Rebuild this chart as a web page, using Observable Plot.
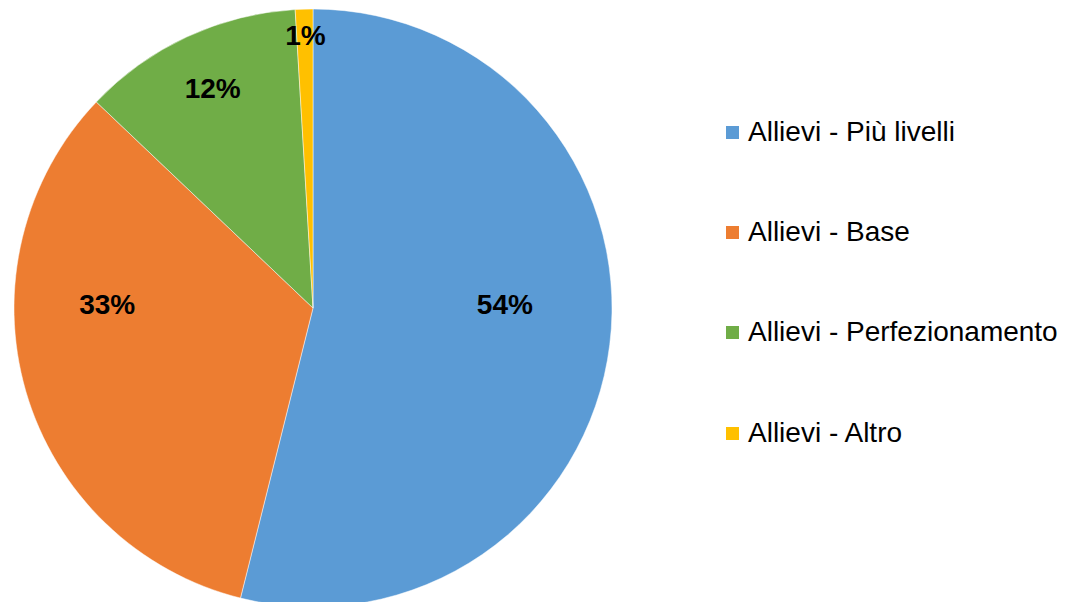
<!DOCTYPE html>
<html><head><meta charset="utf-8">
<script src="https://cdn.jsdelivr.net/npm/d3@7"></script>
<script src="https://cdn.jsdelivr.net/npm/@observablehq/plot@0.6"></script>
<style>
body{margin:0;background:#fff;font-family:"Liberation Sans",Arial,sans-serif;}
#wrap{position:relative;width:1069px;height:602px;overflow:hidden;}
.item{position:absolute;left:726px;white-space:nowrap;font-size:28px;line-height:32px;display:flex;align-items:center;color:#000;}
.sw{width:13px;height:13px;margin-right:9px;flex:none;}
</style></head><body><div id="wrap"></div>
<script>
const categories = ["Allievi - Più livelli", "Allievi - Base", "Allievi - Perfezionamento", "Allievi - Altro"];
const shares = [53.9, 33.2, 11.95, 0.95];
const labels = ["54%", "33%", "12%", "1%"];
const colors = ["#5B9BD5", "#ED7D31", "#70AD47", "#FFC000"];

const data = categories.map((c, i) => ({category: c, share: shares[i], label: labels[i]}));
const arcs = d3.pie().sort(null).value(d => d.share)(data);

// label placement (mimics "best fit": horizontal for slices spanning 3/9 o'clock)
const labelData = arcs.map(a => {
  const s = a.data.share / 100;
  let ang = (a.startAngle + a.endAngle) / 2;
  if (a.startAngle < Math.PI / 2 && a.endAngle > Math.PI / 2) ang = Math.PI / 2;
  else if (a.startAngle < 3 * Math.PI / 2 && a.endAngle > 3 * Math.PI / 2) ang = 3 * Math.PI / 2;
  const k = s > 0.5 ? 0.64 : s > 0.3 ? 0.69 : (s > 0.05 ? 0.8 : 0.9);
  return {label: a.data.label, x: Math.sin(ang) * k, y: Math.cos(ang) * k};
});

const chart = Plot.plot({
  width: 1069,
  height: 602,
  x: {domain: [-1, 1], range: [14, 612], axis: null},
  y: {domain: [-1, 1], range: [607, 9], axis: null},
  color: {domain: categories, range: colors},
  style: {fontFamily: "'Liberation Sans', Arial, sans-serif", background: "#fff"},
  marks: [
    Plot.dot(arcs, {
      x: () => 0, y: () => 0, fill: d => d.data.category,
      render: (index, scales, values) => {
        const cx = scales.x(0), cy = scales.y(0), r = scales.x(1) - scales.x(0);
        const arcGen = d3.arc().innerRadius(0).outerRadius(r);
        const g = d3.create("svg:g").attr("transform", `translate(${cx},${cy})`);
        g.selectAll("path").data(index).join("path")
          .attr("d", i => arcGen(arcs[i]))
          .attr("fill", i => values.fill[i])
          .attr("stroke", "#fff")
          .attr("stroke-opacity", 0.6)
          .attr("stroke-width", 0.8);
        return g.node();
      }
    }),
    Plot.text(labelData, {x: "x", y: "y", text: "label", fontSize: 28, fontWeight: "bold", fill: "#000", dy: -3})
  ]
});

const wrap = document.getElementById("wrap");
wrap.appendChild(chart);
const colorScale = chart.scale("color");
const rowTops = [116, 216, 316, 417];
categories.forEach((c, i) => {
  const it = document.createElement("div");
  it.className = "item";
  it.style.top = rowTops[i] + "px";
  const sw = document.createElement("span");
  sw.className = "sw";
  sw.style.background = colorScale.apply(c);
  const t = document.createElement("span");
  t.textContent = c;
  it.appendChild(sw); it.appendChild(t);
  wrap.appendChild(it);
});
</script></body></html>
